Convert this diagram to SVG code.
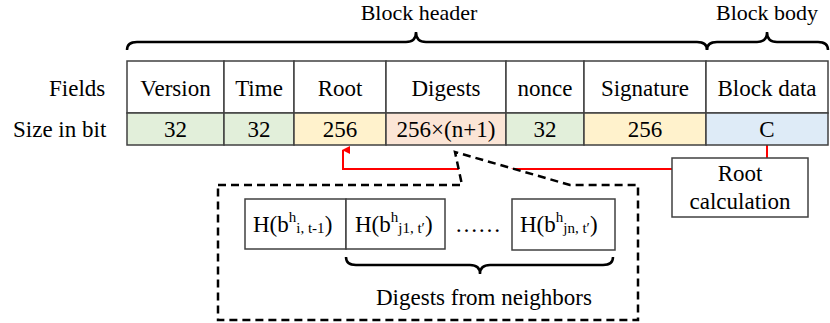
<svg xmlns="http://www.w3.org/2000/svg" width="830" height="323" viewBox="0 0 830 323">
<style>
text{font-family:"Liberation Serif","Times New Roman",serif;font-size:23px;fill:#000}
.c{text-anchor:middle}
.t{font-size:22px}
.cell{stroke:#404040;stroke-width:1.5}
.g{fill:#e2efda}.y{fill:#fff2cc}.p{fill:#fbe5d6}.b{fill:#deebf7}.w{fill:#fff}
.brace{fill:none;stroke:#000;stroke-width:2.5}
.red{fill:none;stroke:#ff0000;stroke-width:2}
.dash{fill:#fff;stroke:#000;stroke-width:2.5;stroke-dasharray:8 5}
.box{fill:#fff;stroke:#404040;stroke-width:1.5}
.s{font-size:15px}
</style>
<defs>
<marker id="ah" markerWidth="8" markerHeight="8" refX="4" refY="1" orient="auto-start-reverse" markerUnits="userSpaceOnUse" viewBox="0 0 8 8">
<path d="M0,8 L4,0 L8,8 Z" fill="#ff0000"/>
</marker>
</defs>

<g id="labels">
<text class="c t" x="419" y="20">Block header</text>
<text class="c t" x="767" y="20">Block body</text>
<text x="49" y="96">Fields</text>
<text x="13" y="137">Size in bit</text>
</g>

<g id="braces">
<path class="brace" d="M127,50 Q127,42 137,42 L406,42 Q416,42 416,32 Q416,42 426,42 L697,42 Q707,42 707,50"/>
<path class="brace" d="M707,50 Q707,42 717,42 L757,42 Q767,42 767,32 Q767,42 777,42 L818,42 Q828,42 828,50"/>
</g>

<g id="connectors">
<path class="red" d="M767,145 L767,158"/>
<path class="red" d="M672,169 L343,169 L343,150" marker-end="url(#ah)"/>
</g>

<g id="callout">
<polygon class="dash" points="218,185 462,185 455,152 570,185 638,185 638,320 218,320"/>
</g>

<g id="table">
<g id="version"><rect class="cell w" x="127" y="61" width="97" height="52"/><rect class="cell g" x="127" y="113" width="97" height="32"/><text class="c" x="175.5" y="96">Version</text><text class="c" x="175.5" y="137">32</text></g>
<g id="time"><rect class="cell w" x="224" y="61" width="70" height="52"/><rect class="cell g" x="224" y="113" width="70" height="32"/><text class="c" x="259" y="96">Time</text><text class="c" x="259" y="137">32</text></g>
<g id="root"><rect class="cell w" x="294" y="61" width="92" height="52"/><rect class="cell y" x="294" y="113" width="92" height="32"/><text class="c" x="340" y="96">Root</text><text class="c" x="340" y="137">256</text></g>
<g id="digests"><rect class="cell w" x="386" y="61" width="120" height="52"/><rect class="cell p" x="386" y="113" width="120" height="32"/><text class="c" x="446" y="96">Digests</text><text class="c" x="446" y="137">256×(n+1)</text></g>
<g id="nonce"><rect class="cell w" x="506" y="61" width="78" height="52"/><rect class="cell g" x="506" y="113" width="78" height="32"/><text class="c" x="545" y="96">nonce</text><text class="c" x="545" y="137">32</text></g>
<g id="signature"><rect class="cell w" x="584" y="61" width="122" height="52"/><rect class="cell y" x="584" y="113" width="122" height="32"/><text class="c" x="645" y="96">Signature</text><text class="c" x="645" y="137">256</text></g>
<g id="blockdata"><rect class="cell w" x="706" y="61" width="122" height="52"/><rect class="cell b" x="706" y="113" width="122" height="32"/><text class="c" x="767" y="96">Block data</text><text class="c" x="767" y="137">C</text></g>
</g>

<g id="rootcalc">
<rect class="box" x="672" y="158" width="136" height="59"/>
<text class="c" x="740" y="181">Root</text>
<text class="c" x="740" y="209">calculation</text>
</g>

<g id="h1">
<rect class="box" x="245" y="199" width="101" height="50"/>
<text x="253" y="232">H(b<tspan class="s" dy="-10">h</tspan><tspan class="s" dy="11">i, t-1</tspan><tspan dy="-1">)</tspan></text>
</g>
<g id="h2">
<rect class="box" x="346" y="199" width="99" height="50"/>
<text x="355" y="232">H(b<tspan class="s" dy="-10">h</tspan><tspan class="s" dy="11">j1, t′</tspan><tspan dy="-1">)</tspan></text>
</g>
<g id="dots"><text x="455" y="232">……</text></g>
<g id="h3">
<rect class="box" x="512" y="199" width="103" height="51"/>
<text x="520" y="232">H(b<tspan class="s" dy="-10">h</tspan><tspan class="s" dy="11">jn, t′</tspan><tspan dy="-1">)</tspan></text>
</g>

<g id="neighbors">
<path class="brace" d="M346,257 Q346,265 356,265 L470,265 Q480,265 480,274 Q480,265 490,265 L603,265 Q613,265 613,257"/>
<text x="376" y="305">Digests from neighbors</text>
</g>
</svg>
